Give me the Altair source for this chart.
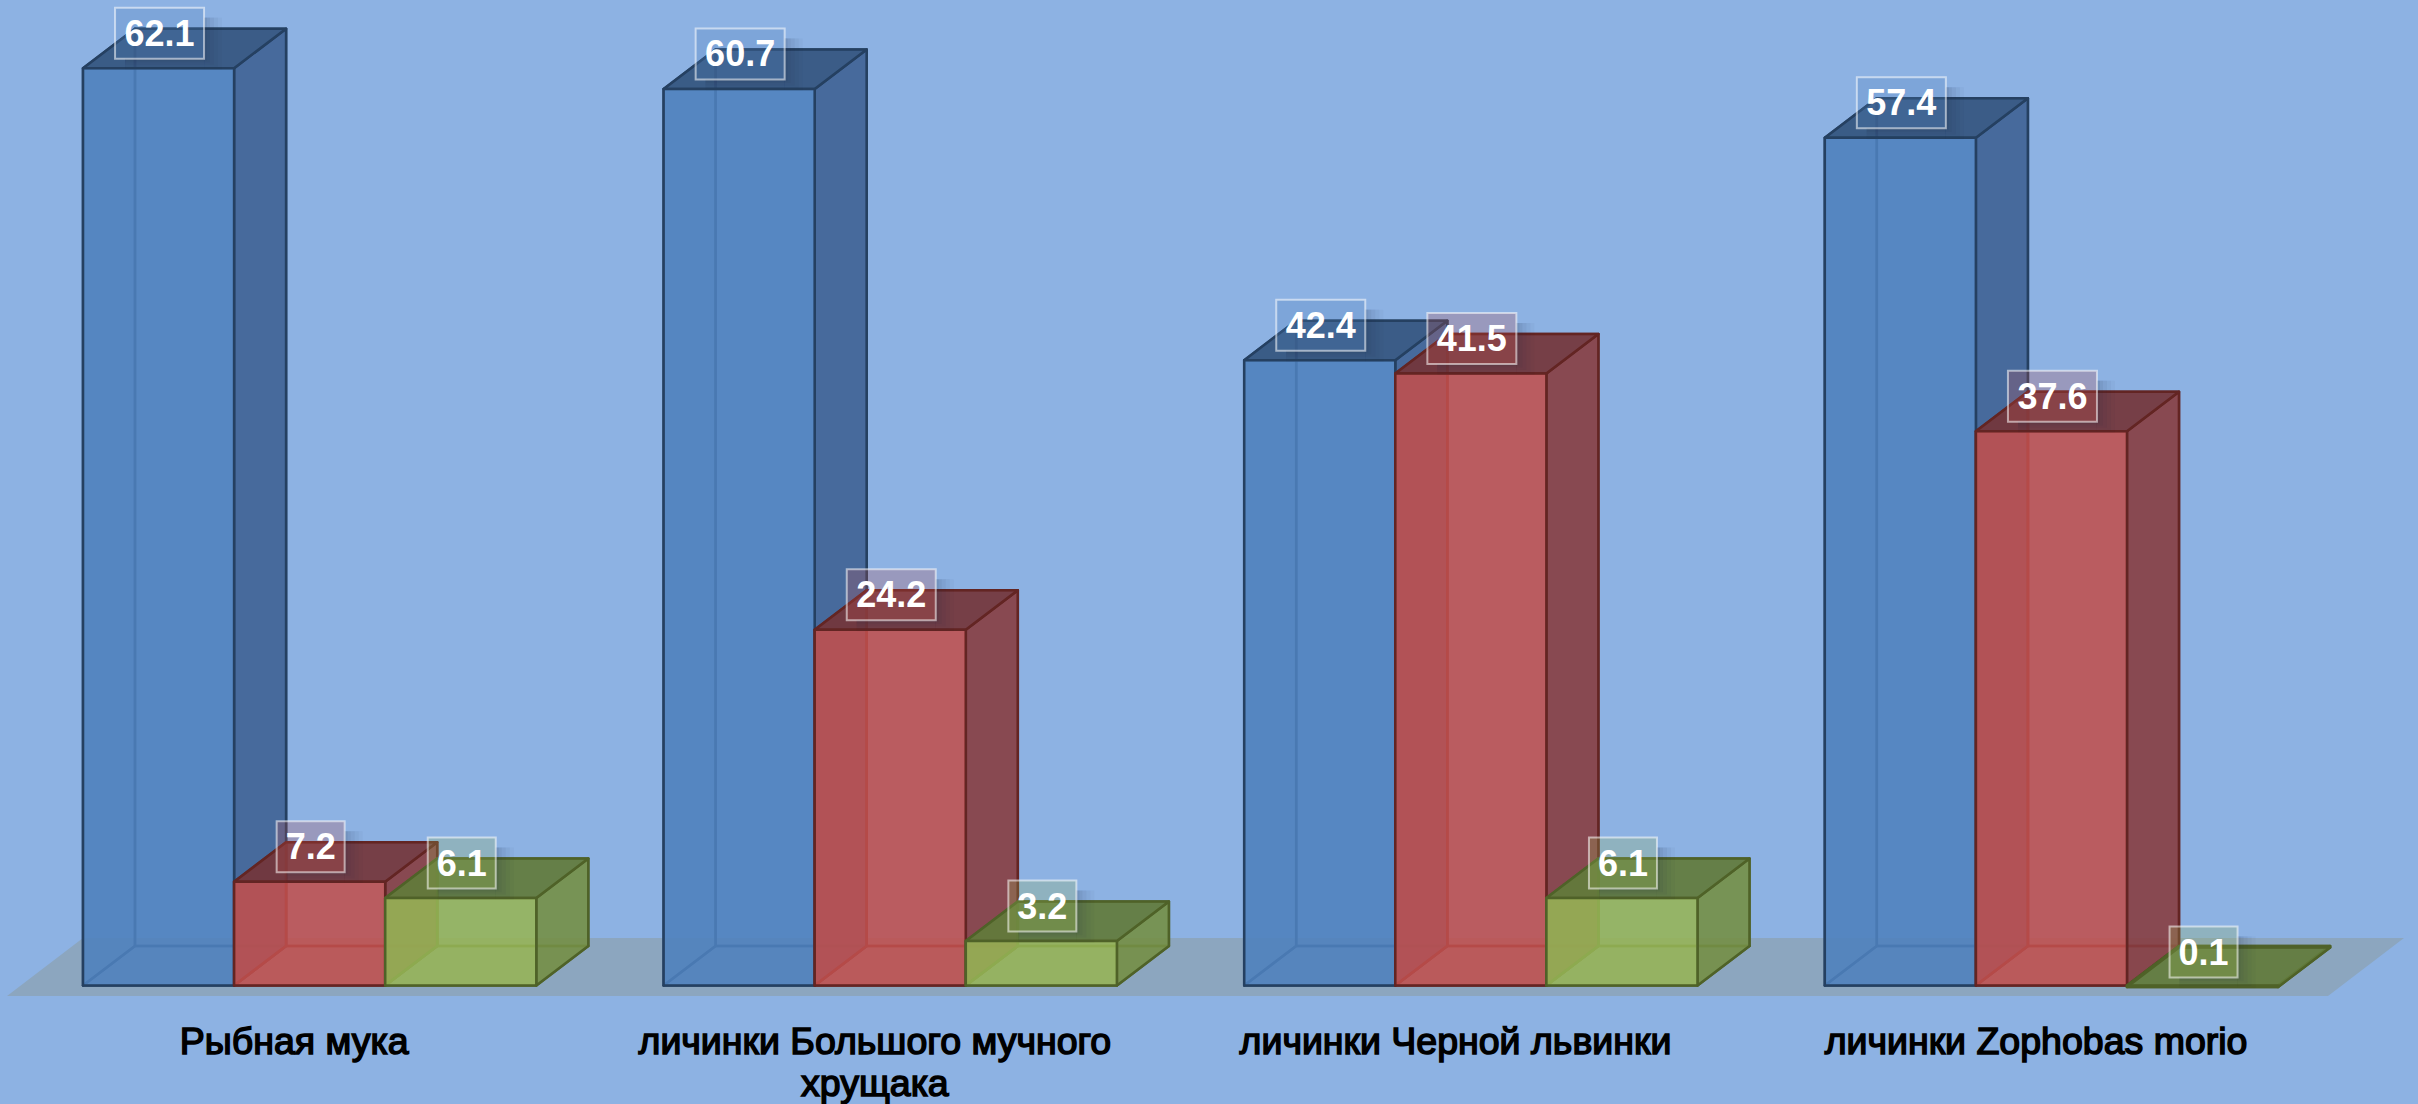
import altair as alt
import pandas as pd

categories = ["Рыбная мука", "личинки Большого мучного\nхрущака", "личинки Черной львинки", "личинки Zophobas morio"]
series_blue = [62.1, 60.7, 42.4, 57.4]
series_red = [7.2, 24.2, 41.5, 37.6]
series_green = [6.1, 3.2, 6.1, 0.1]
labels_blue = ["62.1", "60.7", "42.4", "57.4"]
labels_red = ["7.2", "24.2", "41.5", "37.6"]
labels_green = ["6.1", "3.2", "6.1", "0.1"]

W, H = 2418, 1104
BAR_PX = 151.1        # pixels per bar width
VAL_PX = 14.82        # pixels per value unit
LEFT_PX, ZERO_PX = 83.0, 988.5
BASE = 3.0 / VAL_PX   # the boxes stand very slightly above value zero
GROUP_STEP = 580.6 / BAR_PX
DX = 52 / BAR_PX      # oblique depth, in bar widths
DY = 39.5 / VAL_PX    # oblique depth, in value units

xs = alt.Scale(domain=[-LEFT_PX / BAR_PX, (W - LEFT_PX) / BAR_PX], range=[0, W], nice=False, zero=False)
ys = alt.Scale(domain=[-(H - ZERO_PX) / VAL_PX, ZERO_PX / VAL_PX], range=[H, 0], nice=False, zero=False)


def px(n):
    return n / BAR_PX


def vy(n):
    return n / VAL_PX


def vert_face(rows, **style):
    df = pd.DataFrame(rows, columns=["bar", "x", "y", "y2"])
    return alt.Chart(df).mark_area(orient="vertical", **style).encode(
        x=alt.X("x:Q", scale=xs, axis=None),
        y=alt.Y("y:Q", scale=ys, axis=None),
        y2="y2:Q",
        detail="bar:N",
    )


def horiz_face(rows, **style):
    df = pd.DataFrame(rows, columns=["bar", "y", "x", "x2"])
    return alt.Chart(df).mark_area(orient="horizontal", **style).encode(
        y=alt.Y("y:Q", scale=ys, axis=None),
        x=alt.X("x:Q", scale=xs, axis=None),
        x2="x2:Q",
        detail="bar:N",
    )


def box_layer(x0, x1, y0, y1, **style):
    df = pd.DataFrame({"x": x0, "x2": x1, "y": y0, "y2": y1})
    return alt.Chart(df).mark_rect(**style).encode(
        x=alt.X("x:Q", scale=xs, axis=None),
        x2="x2:Q",
        y=alt.Y("y:Q", scale=ys, axis=None),
        y2="y2:Q",
    )


layers = []

# Ground plane under all four groups
layers.append(horiz_face(
    [["floor", BASE - vy(10.5), -px(76), (2328 - LEFT_PX) / BAR_PX],
     ["floor", BASE + vy(47.5), 0, (2404 - LEFT_PX) / BAR_PX]],
    fill="#8CA6BF",
))

series = [
    (series_blue, labels_blue, 0, "#4F81BD", "#3F6293", "#34557F", "#254061"),
    (series_red, labels_red, 1, "#C0504D", "#873D40", "#74353A", "#632523"),
    (series_green, labels_green, 2, "#96B455", "#748F45", "#627B3B", "#4F6228"),
]

for values, _, idx, front, side, top, edge in series:
    back, left, bottom, right, roof, face = [], [], [], [], [], []
    for g, v in enumerate(values):
        x0 = g * GROUP_STEP + idx
        x1 = x0 + 1
        b = f"{g}-{idx}"
        back += [[b, x0 + DX, BASE + DY, v + DY], [b, x1 + DX, BASE + DY, v + DY]]
        left += [[b, x0, BASE, v], [b, x0 + DX, BASE + DY, v + DY]]
        right += [[b, x1, BASE, v], [b, x1 + DX, BASE + DY, v + DY]]
        face += [[b, x0, BASE, v], [b, x1, BASE, v]]
        bottom += [[b, BASE, x0, x1], [b, BASE + DY, x0 + DX, x1 + DX]]
        roof += [[b, v, x0, x1], [b, v + DY, x0 + DX, x1 + DX]]
    edges = dict(stroke=edge, strokeWidth=2.5, strokeJoin="round")
    layers.append(vert_face(back, fillOpacity=0, strokeOpacity=0.9, **edges))
    layers.append(vert_face(left, fill=edge, fillOpacity=0.06, strokeOpacity=0.9, **edges))
    layers.append(horiz_face(bottom, fillOpacity=0, strokeOpacity=0.9, **edges))
    layers.append(vert_face(right, fill=side, fillOpacity=0.9, strokeOpacity=1, **edges))
    layers.append(horiz_face(roof, fill=top, fillOpacity=0.92, strokeOpacity=1, **edges))
    layers.append(vert_face(face, fill=front, fillOpacity=0.88, strokeOpacity=1, **edges))

# Value badges: shadow to the lower right, tinted box, white number
for values, labels, idx, front, *_ in series:
    cx = [g * GROUP_STEP + idx + 0.5 + px(1) for g in range(4)]
    half = [px(44.5 if len(t) == 4 else 34) for t in labels]
    cy = [v + vy(35) for v in values]
    lo = [c - h for c, h in zip(cx, half)]
    hi = [c + h for c, h in zip(cx, half)]
    top_y = [c + vy(25.5) for c in cy]
    low_y = [c - vy(25.5) for c in cy]
    for reach, alpha in [(18, 0.03), (14, 0.04), (10, 0.05), (6, 0.06), (3, 0.07)]:
        layers.append(box_layer(
            hi, [h + px(reach) for h in hi],
            [t - vy(10) for t in top_y], [b - vy(reach * 0.6) for b in low_y],
            fill="#1F2F45", opacity=alpha,
        ))
        layers.append(box_layer(
            [l + px(10) for l in lo], hi,
            low_y, [b - vy(reach * 0.6) for b in low_y],
            fill="#1F2F45", opacity=alpha,
        ))
    layers.append(box_layer(
        lo, hi, low_y, top_y,
        fill=front, fillOpacity=0.25, stroke="white", strokeOpacity=0.55, strokeWidth=2,
    ))
    text_df = pd.DataFrame({"x": cx, "y": cy, "t": labels})
    layers.append(alt.Chart(text_df).mark_text(
        font="Liberation Sans", fontWeight="bold", fontSize=36, color="white",
        align="center", baseline="middle", dy=1.5,
    ).encode(
        x=alt.X("x:Q", scale=xs, axis=None),
        y=alt.Y("y:Q", scale=ys, axis=None),
        text="t:N",
    ))

# Category captions
cat_df = pd.DataFrame({
    "x": [g * GROUP_STEP + 1.5 - px(15.4) for g in range(4)],
    "y": [BASE - vy(68)] * 4,
    "t": categories,
})
layers.append(alt.Chart(cat_df).mark_text(
    font="Liberation Sans", fontSize=37.5, color="black", stroke="black", strokeWidth=1.5,
    align="center", baseline="alphabetic", lineBreak="\n", lineHeight=42.5,
).encode(
    x=alt.X("x:Q", scale=xs, axis=None),
    y=alt.Y("y:Q", scale=ys, axis=None),
    text="t:N",
))

chart = alt.layer(*layers).properties(
    width=W, height=H, padding=0,
    autosize=alt.AutoSizeParams(type="none"),
    background="#8DB2E3",
).configure_view(stroke=None)

chart.save("out.html", embed_options={"renderer": "svg", "actions": False})
